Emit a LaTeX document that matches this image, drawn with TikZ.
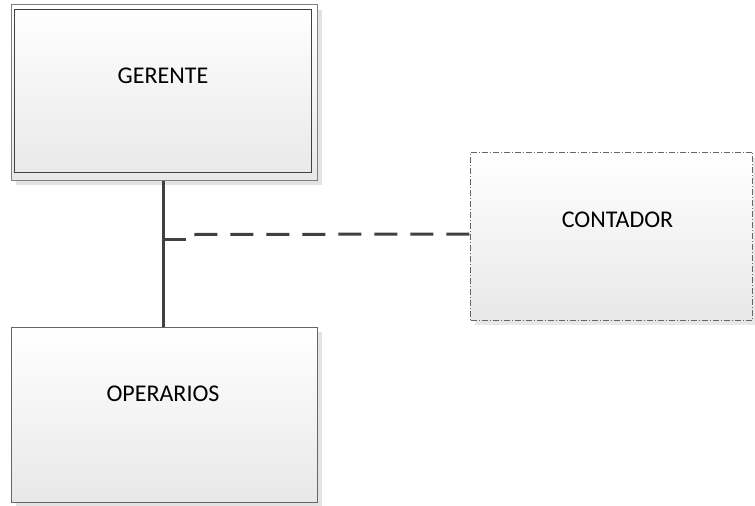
\documentclass[tikz,border=0pt]{standalone}
\usepackage{fontspec}
\setmainfont{Carlito}
\begin{document}
\begin{tikzpicture}[x=1pt,y=-1pt,
  boxfill/.style={top color=white, bottom color=black!9},
  outerbox/.style={draw=black!50, line width=1pt, boxfill, minimum width=306pt, inner sep=0pt},
  innerframe/.style={draw=black!75, line width=0.9pt},
  dashdotbox/.style={draw=black!60, line width=0.8pt, dash pattern=on 6pt off 2pt on 1pt off 2pt, boxfill, inner sep=0pt},
  conn/.style={draw=black!75, line width=2.6pt},
  dashconn/.style={draw=black!75, line width=3pt, dash pattern=on 23pt off 13pt},
  txt/.style={font=\fontsize{24}{29}\selectfont, anchor=base, inner sep=0pt}
]
\useasboundingbox[fill=white] (0,0) rectangle (755,506);
% shadows
\fill[black!11] (16,10) rectangle (322,185);
\fill[black!11] (16,332) rectangle (322,506);
\fill[black!9] (475,158) rectangle (755,325);
% boxes
\node[outerbox, minimum height=175.5pt] (gerente) at (164,92.25) {};
\draw[innerframe] ([xshift=4pt,yshift=-5.5pt]gerente.north west) rectangle ([xshift=-6pt,yshift=8pt]gerente.south east);
\node[outerbox, draw=black!60, minimum height=174.7pt] (operarios) at (164,414.65) {};
\node[dashdotbox, minimum width=282pt, minimum height=168pt] (contador) at (611.7,236) {};
% texts
\node[txt] (tg) at (163,83) {GERENTE};
\node[txt] (tc) at (617.5,227.3) {CONTADOR};
\node[txt] (to) at (163,401) {OPERARIOS};
% connectors
\draw[conn] ([xshift=-0.7pt]gerente.south) -- ([xshift=-0.7pt]operarios.north);
\path ([xshift=-0.7pt]gerente.south) ++(0,59) coordinate (j);
\draw[conn] (j) -- ++(23,0) coordinate (stubend);
\path (stubend) ++(8,-5) coordinate (d0);
\draw[dashconn] (d0) -- ([yshift=2pt]contador.west);
\end{tikzpicture}
\end{document}
